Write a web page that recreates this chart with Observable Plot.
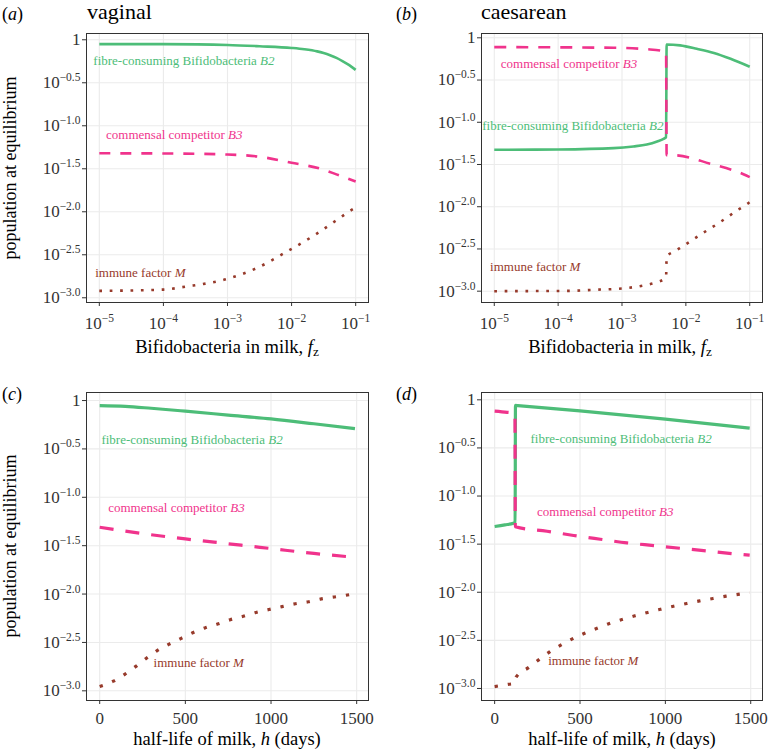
<!DOCTYPE html>
<html><head><meta charset="utf-8">
<script src="https://cdn.jsdelivr.net/npm/d3@7"></script>
<script src="https://cdn.jsdelivr.net/npm/@observablehq/plot@0.6"></script>
<style>
body{margin:0;background:#fff;}
#root{position:relative;width:769px;height:753px;overflow:hidden;font-family:"Liberation Serif","DejaVu Serif",serif;background:#fff;}
.panel{position:absolute;}
.t{position:absolute;white-space:nowrap;line-height:1;color:#000;font-family:"Liberation Serif","DejaVu Serif",serif;}
.sub{font-size:0.72em;position:relative;top:0.3em;}
</style></head><body><div id="root"></div>
<script>
// ---------- data: [x, log10(population)] ----------
// (a) vaginal, x = Bifidobacteria in milk fz
const a_B2 = [[1e-5,-0.05],[1e-4,-0.051],[1e-3,-0.06],[3.16e-3,-0.075],[0.01,-0.095],[0.0158,-0.11],[0.0251,-0.135],[0.0316,-0.155],[0.0398,-0.18],[0.0501,-0.21],[0.0631,-0.25],[0.0794,-0.295],[0.1,-0.35]];
const a_B3 = [[1e-5,-1.32],[1e-4,-1.322],[1e-3,-1.334],[3.16e-3,-1.36],[0.01,-1.43],[0.0282,-1.5],[0.0501,-1.565],[0.1,-1.648]];
const a_M  = [[1e-5,-2.92],[1e-4,-2.905],[2.24e-4,-2.87],[1e-3,-2.78],[2.95e-3,-2.65],[8.13e-3,-2.47],[0.0219,-2.28],[0.0569,-2.07],[0.0776,-2.0],[0.1,-1.95]];
// (b) caesarean
const b_B2 = [[1e-5,-1.326],[1e-4,-1.322],[7.4e-4,-1.306],[1.51e-3,-1.286],[2.45e-3,-1.263],[3.55e-3,-1.227],[4.47e-3,-1.196],[4.9e-3,-1.176],[5.0e-3,-0.079],[8.13e-3,-0.09],[0.0148,-0.13],[0.0275,-0.18],[0.0501,-0.249],[0.1,-0.343]];
const b_B3 = [[1e-5,-0.11],[7.4e-4,-0.118],[2.45e-3,-0.135],[4.79e-3,-0.163],[4.9e-3,-0.168],[5.0e-3,-1.39],[6.46e-3,-1.39],[0.024,-1.49],[0.0813,-1.618],[0.1,-1.65]];
const b_M  = [[1e-5,-3.0],[1.55e-4,-2.996],[3.3e-4,-2.985],[1.05e-3,-2.967],[2.24e-3,-2.93],[3.3e-3,-2.9],[4.68e-3,-2.852],[4.9e-3,-2.84],[5.0e-3,-2.59],[6.76e-3,-2.525],[9.33e-3,-2.46],[0.0178,-2.32],[0.0339,-2.186],[0.0646,-2.04],[0.0891,-1.973],[0.1,-1.945]];
// (c) vaginal, x = half-life of milk h (days)
const c_B2 = [[0,-0.052],[150,-0.06],[300,-0.08],[500,-0.11],[750,-0.15],[1000,-0.19],[1250,-0.24],[1490,-0.29]];
const c_B3 = [[0,-1.31],[250,-1.375],[500,-1.43],[750,-1.48],[1000,-1.53],[1250,-1.58],[1490,-1.62]];
const c_M  = [[0,-2.955],[80,-2.9],[146,-2.83],[209,-2.75],[271,-2.665],[335,-2.585],[403,-2.52],[473,-2.46],[543,-2.4],[614,-2.35],[688,-2.31],[762,-2.265],[838,-2.23],[912,-2.19],[988,-2.16],[1064,-2.13],[1142,-2.1],[1218,-2.08],[1294,-2.05],[1370,-2.03],[1446,-2.01],[1490,-1.995]];
// (d) caesarean
const d_B2 = [[0,-1.317],[60,-1.3],[110,-1.283],[120,-1.275],[122,-0.058],[136,-0.06],[500,-0.115],[1000,-0.2],[1494,-0.295]];
const d_B3 = [[0,-0.118],[73,-0.13],[119,-0.14],[121,-1.32],[307,-1.366],[463,-1.41],[619,-1.449],[775,-1.487],[932,-1.515],[1088,-1.543],[1224,-1.567],[1400,-1.6],[1494,-1.615]];
const d_M  = [[0,-2.98],[84,-2.956],[120,-2.945],[122,-2.895],[131,-2.87],[196,-2.786],[260,-2.7],[322,-2.62],[387,-2.55],[455,-2.485],[527,-2.426],[600,-2.374],[672,-2.325],[746,-2.284],[822,-2.245],[896,-2.21],[972,-2.177],[1048,-2.145],[1125,-2.117],[1201,-2.09],[1279,-2.065],[1356,-2.04],[1434,-2.02],[1494,-2.0]];

// tick values
const fzTicks = [1e-5, 1e-4, 1e-3, 1e-2, 1e-1];
const hTicks = [0, 500, 1000, 1500];
const yTicks = [-3, -2.5, -2, -1.5, -1, -0.5, 0];

// annotation labels ("|" marks the italic part)
const annText = ["fibre-consuming Bifidobacteria |B2", "commensal competitor |B3", "immune factor |M"];
const a_ann = [[2.09e-4,-0.24],[1.48e-4,-1.11],[4.37e-5,-2.71]];
const b_ann = [[1.70e-4,-1.04],[1.48e-4,-0.31],[4.37e-5,-2.71]];
const c_ann = [[539,-0.41],[448,-1.11],[578,-2.71]];
const d_ann = [[741,-0.41],[648,-1.16],[578,-2.71]];

const GREEN = "#4dbd78", PINK = "#f0338c", BROWN = "#973a2b";
const MINUS = "\u2212";
const fzFmt = v => "10^" + MINUS + Math.round(-Math.log10(v));
const yFmt = v => v === 0 ? "1" : "10^" + MINUS + Math.abs(v).toFixed(1);

const panels = [
  {left:0, top:0, w:384, h:376, mL:86, mR:16, mT:33, mB:74, log:true, xd:[6.31e-6,0.1585], yd:[-3.055,0.073], xt:fzTicks, xf:fzFmt, xPad:10, data:[a_B2,a_B3,a_M], ann:a_ann, lw:2.6, dash:"11,10", dot:"2.7,7.7"},
  {left:384, top:0, w:385, h:376, mL:97, mR:7, mT:33, mB:74, log:true, xd:[6.31e-6,0.1585], yd:[-3.134,0.051], xt:fzTicks, xf:fzFmt, xPad:10, data:[b_B2,b_B3,b_M], ann:b_ann, lw:2.6, dash:"12,10", dot:"2.7,7.7"},
  {left:0, top:376, w:384, h:377, mL:86, mR:16, mT:16, mB:53, log:false, xd:[-77,1569], yd:[-3.1,0.083], xt:hTicks, xf:v=>String(v), xPad:7, data:[c_B2,c_B3,c_M], ann:c_ann, lw:3.2, dash:"14,12", dot:"3.3,10"},
  {left:384, top:376, w:385, h:377, mL:97, mR:7, mT:16, mB:53, log:false, xd:[-77,1569], yd:[-3.125,0.076], xt:hTicks, xf:v=>String(v), xPad:7, data:[d_B2,d_B3,d_M], ann:d_ann, lw:3.2, dash:"14,12", dot:"3.3,10"}
];

const root = document.getElementById("root");

function richify(svg){
  svg.querySelectorAll("text").forEach(t => {
    const s = t.textContent;
    if (s.includes("^")) {
      const [base, sup] = s.split("^");
      t.textContent = "";
      t.appendChild(document.createTextNode(base));
      const ts = document.createElementNS("http://www.w3.org/2000/svg", "tspan");
      ts.setAttribute("font-size", "11.5px");
      ts.setAttribute("dy", "-7");
      ts.textContent = sup;
      t.appendChild(ts);
    } else if (s.includes("|")) {
      const [base, it] = s.split("|");
      t.textContent = "";
      t.setAttribute("style", (t.getAttribute("style")||"") + ";white-space:pre");
      t.appendChild(document.createTextNode(base));
      const ts = document.createElementNS("http://www.w3.org/2000/svg", "tspan");
      ts.setAttribute("font-style", "italic");
      ts.textContent = it;
      t.appendChild(ts);
    }
  });
}

const colors = [GREEN, PINK, BROWN];
panels.forEach(p => {
  const X = d => d[0], Y = d => d[1];
  const chart = Plot.plot({
    width: p.w, height: p.h,
    marginLeft: p.mL, marginRight: p.mR, marginTop: p.mT, marginBottom: p.mB,
    style: {fontFamily: "'Liberation Serif','DejaVu Serif',serif", fontSize: "17px", color: "#333", background: "transparent", overflow: "visible"},
    x: p.log ? {type: "log", domain: p.xd, label: null} : {type: "linear", domain: p.xd, label: null},
    y: {domain: p.yd, label: null},
    marks: [
      Plot.gridX(p.xt, {stroke: "#ebebeb", strokeOpacity: 1, strokeWidth: 1.1}),
      Plot.gridY(yTicks, {stroke: "#ebebeb", strokeOpacity: 1, strokeWidth: 1.1}),
      Plot.line(p.data[0], {x: X, y: Y, stroke: GREEN, strokeWidth: p.lw, strokeLinecap: "butt", curve: "monotone-x"}),
      Plot.line(p.data[1], {x: X, y: Y, stroke: PINK, strokeWidth: p.lw, strokeLinecap: "butt", strokeDasharray: p.dash, curve: "monotone-x"}),
      Plot.line(p.data[2], {x: X, y: Y, stroke: BROWN, strokeWidth: p.lw, strokeLinecap: "butt", strokeDasharray: p.dot, curve: "monotone-x"}),
      Plot.frame({stroke: "#333", strokeWidth: 1}),
      Plot.axisX(p.xt, {tickFormat: p.xf, tickSize: 4, tickPadding: p.xPad, stroke: "#333", fill: "#333", label: null}),
      Plot.axisY(yTicks, {tickFormat: yFmt, tickSize: 4, tickPadding: 2, stroke: "#333", fill: "#333", label: null}),
      ...p.ann.map((a, i) => Plot.text([a], {x: X, y: Y, text: () => annText[i], fill: colors[i], fontSize: 13, textAnchor: "middle"}))
    ]
  });
  const div = document.createElement("div");
  div.className = "panel";
  div.style.left = p.left + "px";
  div.style.top = p.top + "px";
  div.appendChild(chart);
  root.appendChild(div);
  richify(chart);
});

// ---------- HTML text ----------
function addText(html, left, baseline, size, opts = {}) {
  const el = document.createElement("div");
  el.className = "t";
  el.innerHTML = html;
  el.style.fontSize = size + "px";
  el.style.top = (baseline - 0.8375 * size) + "px";
  el.style.left = left + "px";
  if (opts.center) el.style.transform = "translateX(-50%)";
  root.appendChild(el);
  return el;
}
function addYTitle(html, cx, cy, size) {
  const el = document.createElement("div");
  el.className = "t";
  el.innerHTML = html;
  el.style.fontSize = size + "px";
  el.style.left = cx + "px";
  el.style.top = cy + "px";
  el.style.transform = "translate(-50%,-50%) rotate(-90deg)";
  root.appendChild(el);
}
addText("(<i>a</i>)", 2, 20, 18);
addText("vaginal", 87, 19.5, 22);
addText("(<i>b</i>)", 396, 20, 18);
addText("caesarean", 481, 19.5, 22);
addText("(<i>c</i>)", 2, 400, 18);
addText("(<i>d</i>)", 396, 400, 18);
addText('Bifidobacteria in milk, <i>f</i><span class="sub">z</span>', 227, 353, 18.5, {center: true});
addText('Bifidobacteria in milk, <i>f</i><span class="sub">z</span>', 620, 353, 18.5, {center: true});
addText('half-life of milk, <i>h</i> (days)', 227, 745, 18.5, {center: true});
addText('half-life of milk, <i>h</i> (days)', 622, 745, 18.5, {center: true});
addYTitle("population at equilibrium", 9.5, 167.5, 18);
addYTitle("population at equilibrium", 9.5, 546, 18);
</script></body></html>
